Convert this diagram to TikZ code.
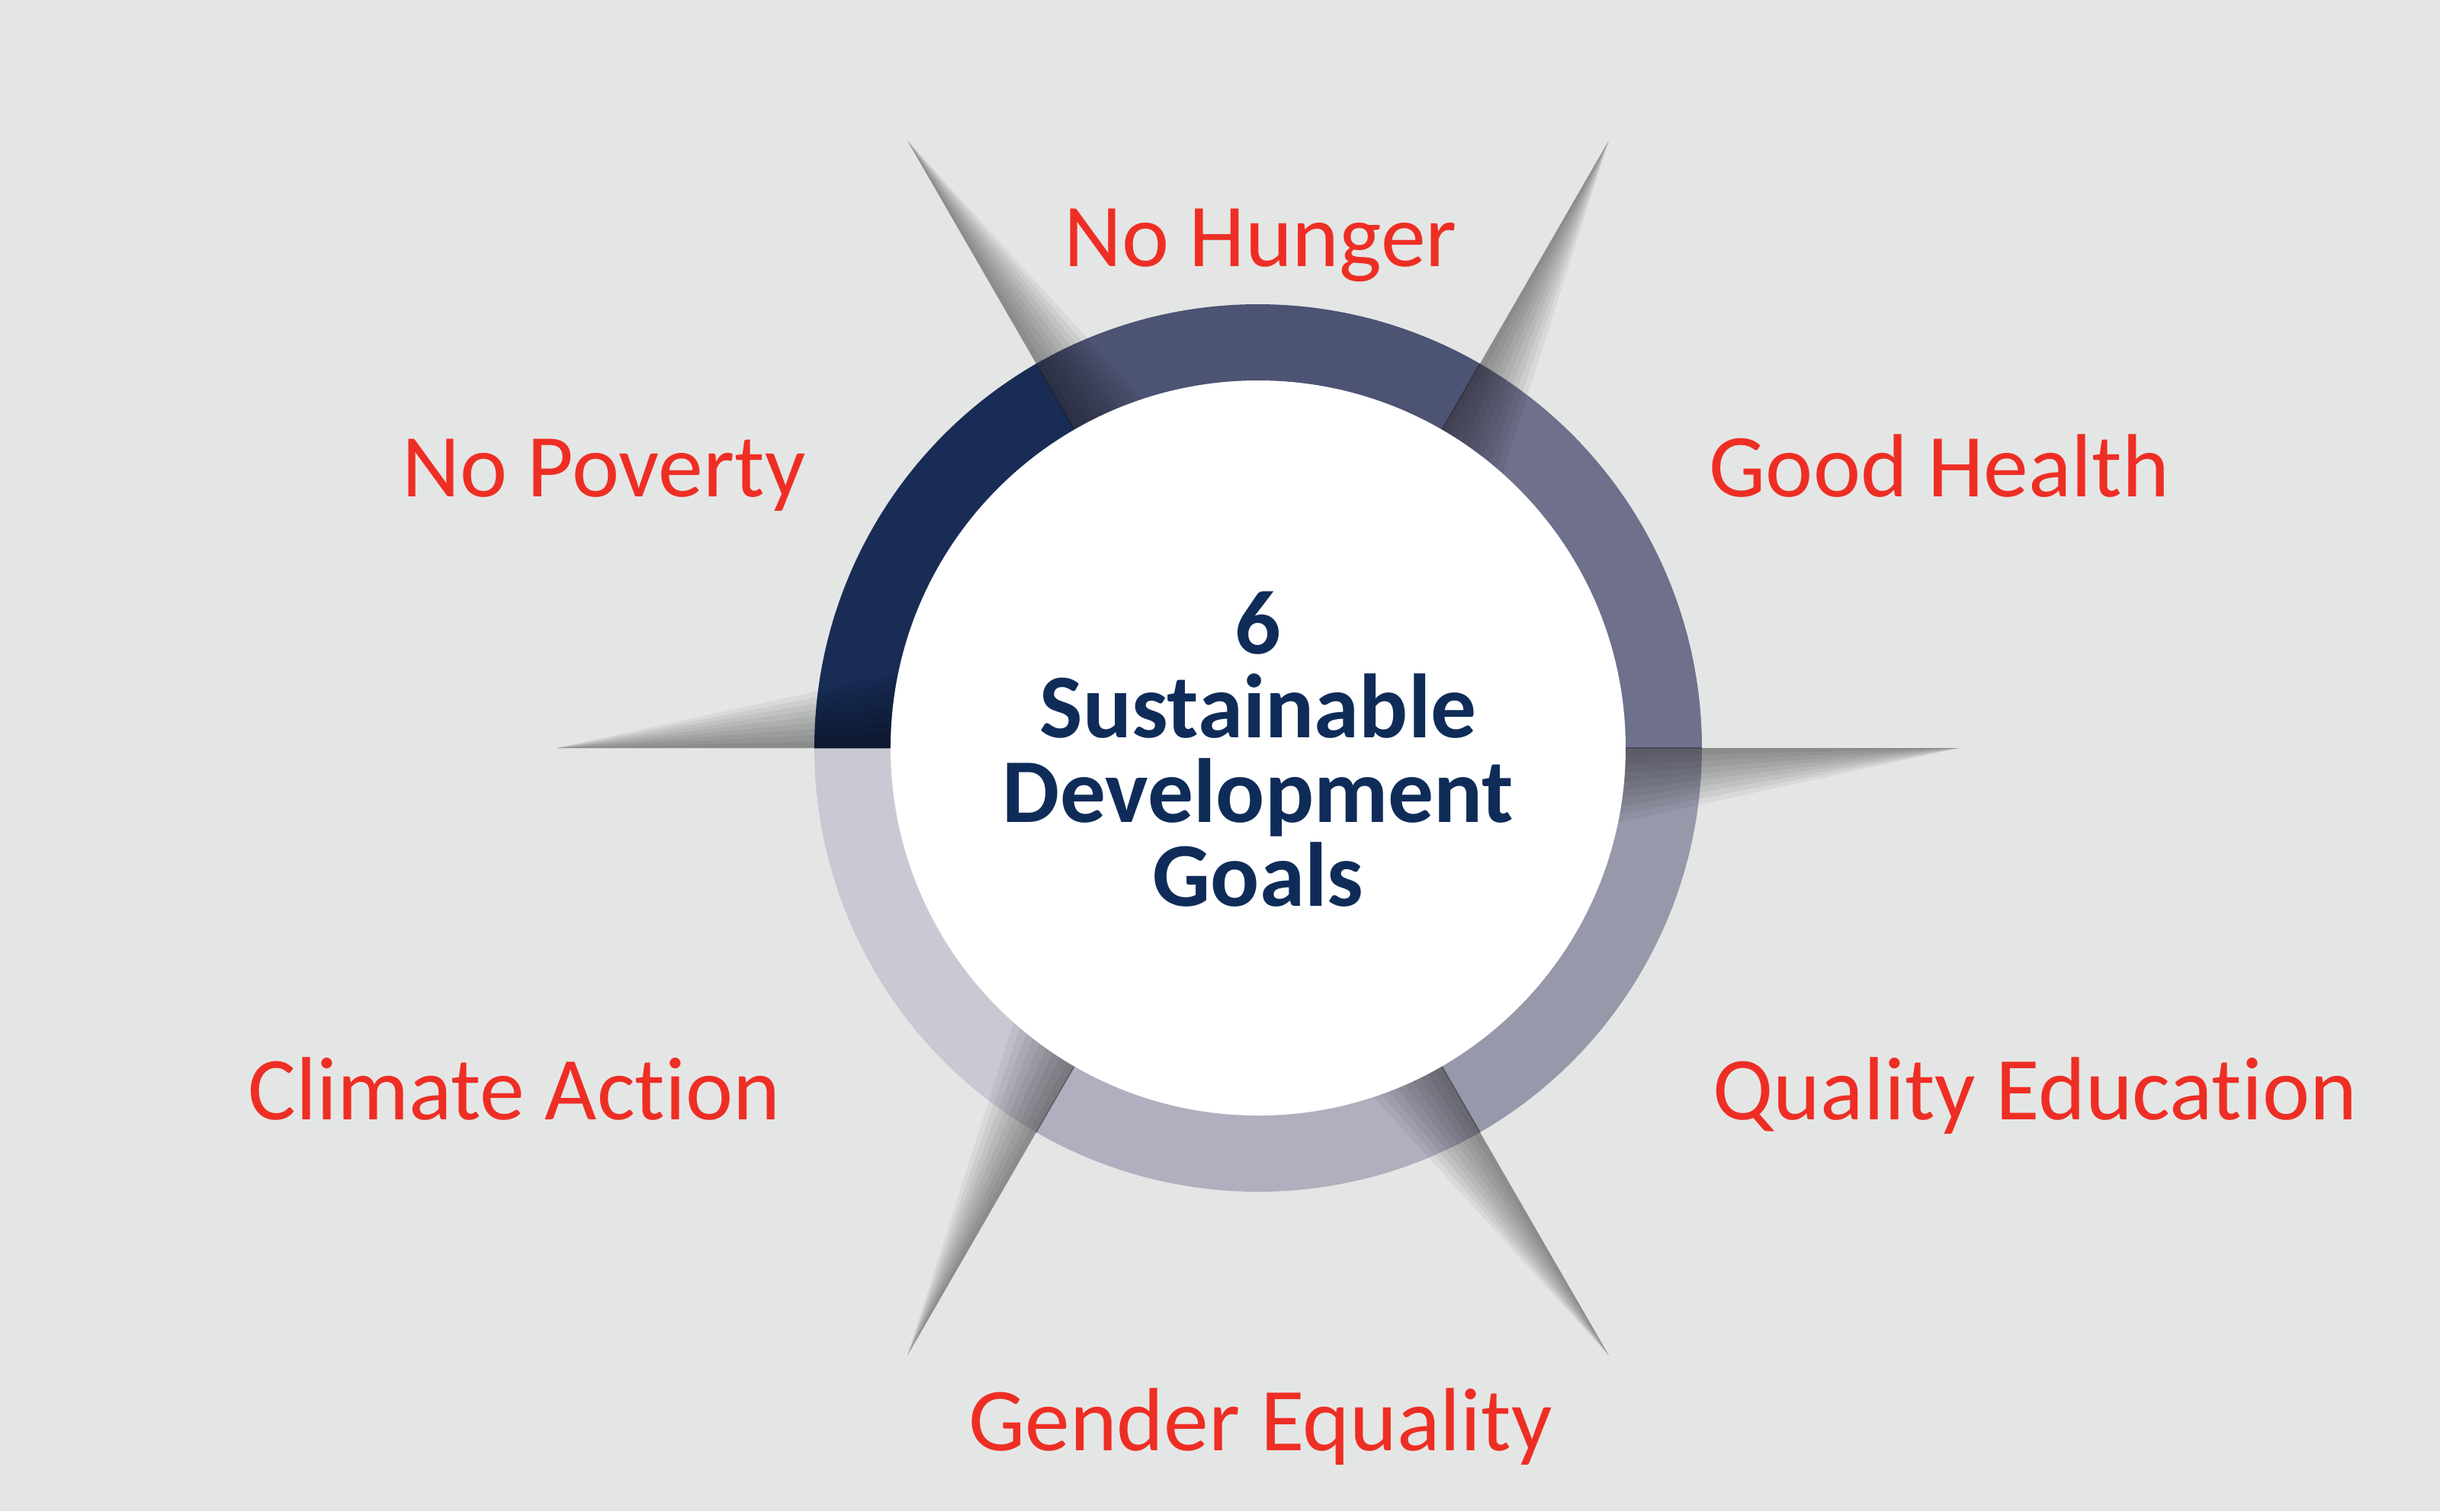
\documentclass[tikz,border=0pt]{standalone}
\usepackage{fontspec}
\setmainfont{Carlito}[Ligatures=NoCommon]
\usetikzlibrary{calc}
\usepackage{xcolor}
\definecolor{PageGrey}{HTML}{E4E6E5}
\definecolor{GoalRed}{HTML}{EE2E24}
\definecolor{GoalNavy}{HTML}{0F2C59}
\definecolor{SegPoverty}{HTML}{192C55}
\definecolor{SegHunger}{HTML}{4D5373}
\definecolor{SegHealth}{HTML}{6E708C}
\definecolor{SegEducation}{HTML}{9798AA}
\definecolor{SegGender}{HTML}{AFAFBF}
\definecolor{SegClimate}{HTML}{C8C9D3}
\newcommand{\rin}{4.82}
\newcommand{\rout}{5.82}
\newcommand{\rtip}{9.2}
% thin shaded blade along one segment border
\newcommand{\bladeshadow}[1]{%
  \foreach \k in {1,...,9}{%
    \fill[black, opacity=0.05] (#1:\rin) -- (#1:\rtip) -- ({#1-1.3*\k}:\rin) -- cycle;
  }%
  \draw[black, opacity=0.3, line width=0.5pt] (#1:\rin) -- (#1:\rout);
}
\tikzset{
  goallabel/.style={
    text=GoalRed, inner sep=0pt,
    font=\fontsize{33.5}{40}\selectfont
  },
  titletext/.style={
    text=GoalNavy, inner sep=0pt, align=center,
    font=\fontsize{34}{31.3}\selectfont\bfseries
  }
}

\begin{document}
\begin{tikzpicture}

% ── Canvas ────────────────────────────────────────────────────────────────────

\useasboundingbox (-16.50,-10.01) rectangle (15.50,9.81);
\fill[PageGrey] (-16.50,-10.01) rectangle (15.50,9.81);

% ── Ring segments ─────────────────────────────────────────────────────────────

\fill[SegPoverty]   (0,0) -- (120:\rout) arc[start angle=120, end angle=180, radius=\rout] -- cycle;
\fill[SegHunger]    (0,0) -- (60:\rout)  arc[start angle=60,  end angle=120, radius=\rout] -- cycle;
\fill[SegHealth]    (0,0) -- (0:\rout)   arc[start angle=0,   end angle=60,  radius=\rout] -- cycle;
\fill[SegEducation] (0,0) -- (300:\rout) arc[start angle=300, end angle=360, radius=\rout] -- cycle;
\fill[SegGender]    (0,0) -- (240:\rout) arc[start angle=240, end angle=300, radius=\rout] -- cycle;
\fill[SegClimate]   (0,0) -- (180:\rout) arc[start angle=180, end angle=240, radius=\rout] -- cycle;

% ── Blade shadows ─────────────────────────────────────────────────────────────

\bladeshadow{0}
\bladeshadow{60}
\bladeshadow{120}
\bladeshadow{180}
\bladeshadow{240}
\bladeshadow{300}

% ── Centre disc and title ─────────────────────────────────────────────────────

\fill[white] (0,0) circle[radius=\rin];

\node[titletext, anchor=base] (title) at (0,-2.07) {6\\Sustainable\\Development\\Goals};

% ── Goal labels ───────────────────────────────────────────────────────────────

\node[goallabel, anchor=base]      (hunger)    at (0.03,6.32)   {No Hunger};
\node[goallabel, anchor=base east] (poverty)   at (-5.93,3.30)  {No Poverty};
\node[goallabel, anchor=base west] (health)    at (5.91,3.30)   {Good Health};
\node[goallabel, anchor=base east] (climate)   at (-6.26,-4.87) {Climate Action};
\node[goallabel, anchor=base west] (education) at (5.96,-4.87)  {Quality Education};
\node[goallabel, anchor=base]      (gender)    at (0.03,-9.21)  {Gender Equality};

\end{tikzpicture}
\end{document}
